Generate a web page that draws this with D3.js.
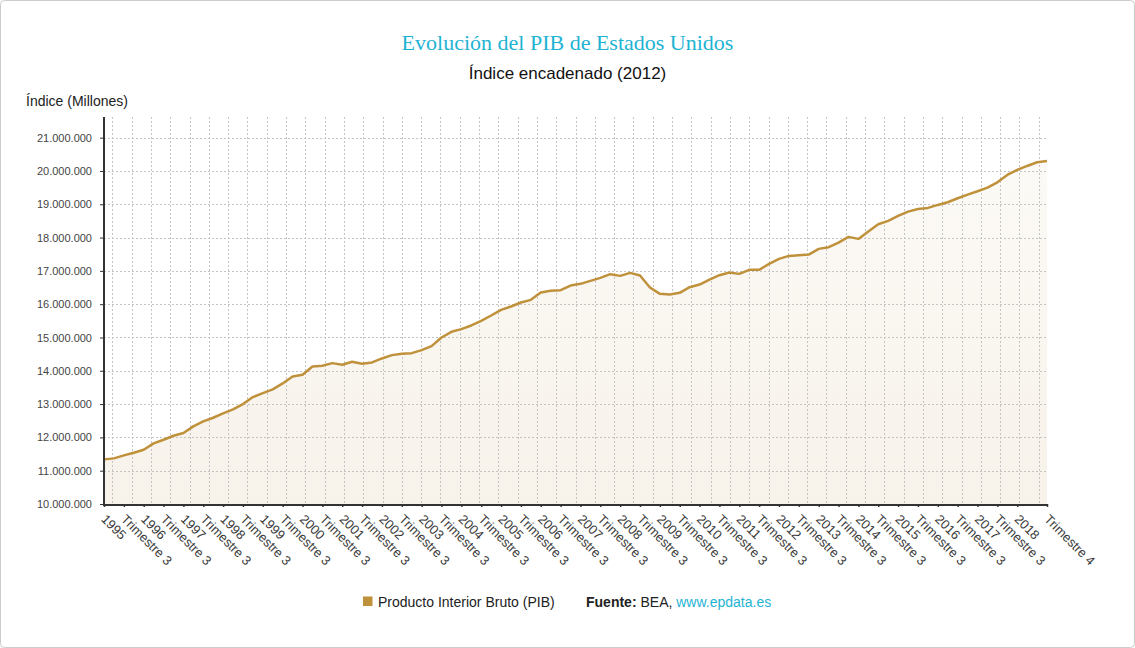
<!DOCTYPE html>
<html>
<head>
<meta charset="utf-8">
<script src="https://cdn.jsdelivr.net/npm/d3@7"></script>
<style>
  html, body { margin: 0; padding: 0; background: #fff; }
  svg { display: block; }
  text { font-family: "Liberation Sans", Arial, sans-serif; }
</style>
</head>
<body>
<svg id="chart" width="1135" height="648"></svg>
<script>
// ---- DATA ----
const years = [1995,1996,1997,1998,1999,2000,2001,2002,2003,2004,2005,2006,
               2007,2008,2009,2010,2011,2012,2013,2014,2015,2016,2017,2018];
const quarters = ["T1","T2","T3","T4"];
// PIB (índice encadenado 2012), millones, trimestral 1995 T1 – 2018 T4
const pibValues = [
  11340000,11370000,11460000,11540000, 11630000,11820000,11930000,12050000,
  12130000,12330000,12480000,12590000, 12720000,12840000,13000000,13210000,
  13330000,13440000,13620000,13830000, 13880000,14130000,14150000,14230000,
  14180000,14270000,14210000,14250000, 14370000,14470000,14510000,14530000,
  14620000,14740000,15000000,15170000, 15250000,15360000,15500000,15660000,
  15830000,15930000,16050000,16130000, 16350000,16400000,16420000,16560000,
  16610000,16700000,16790000,16900000, 16850000,16940000,16860000,16500000,
  16310000,16290000,16340000,16510000, 16590000,16740000,16870000,16950000,
  16910000,17030000,17030000,17210000, 17360000,17450000,17470000,17490000,
  17660000,17710000,17850000,18020000, 17960000,18180000,18400000,18500000,
  18650000,18780000,18860000,18890000, 18980000,19060000,19180000,19290000,
  19390000,19500000,19660000,19880000, 20030000,20150000,20260000,20300000
];
const xTickPeriods = [
  "1995-T1","1995-T3","1996-T1","1996-T3","1997-T1","1997-T3","1998-T1","1998-T3",
  "1999-T1","1999-T3","2000-T1","2000-T3","2001-T1","2001-T3","2002-T1","2002-T3",
  "2003-T1","2003-T3","2004-T1","2004-T3","2005-T1","2005-T3","2006-T1","2006-T3",
  "2007-T1","2007-T3","2008-T1","2008-T3","2009-T1","2009-T3","2010-T1","2010-T3",
  "2011-T1","2011-T3","2012-T1","2012-T3","2013-T1","2013-T3","2014-T1","2014-T3",
  "2015-T1","2015-T3","2016-T1","2016-T3","2017-T1","2017-T3","2018-T1","2018-T4"
];
const xTickLabels = [
  "1995","Trimestre 3","1996","Trimestre 3","1997","Trimestre 3","1998","Trimestre 3",
  "1999","Trimestre 3","2000","Trimestre 3","2001","Trimestre 3","2002","Trimestre 3",
  "2003","Trimestre 3","2004","Trimestre 3","2005","Trimestre 3","2006","Trimestre 3",
  "2007","Trimestre 3","2008","Trimestre 3","2009","Trimestre 3","2010","Trimestre 3",
  "2011","Trimestre 3","2012","Trimestre 3","2013","Trimestre 3","2014","Trimestre 3",
  "2015","Trimestre 3","2016","Trimestre 3","2017","Trimestre 3","2018","Trimestre 4"
];
const yTickValues = [10000000,11000000,12000000,13000000,14000000,15000000,16000000,
                     17000000,18000000,19000000,20000000,21000000];

(function () {
const periods = [];
years.forEach(yr => quarters.forEach(q => periods.push(yr + "-" + q)));
const data = periods.map((p, i) => ({ period: p, value: pibValues[i] }));

// ---- LAYOUT ----
const W = 1135, H = 648;
const pLeft = 104, pRight = 1047, pTop = 117, pBottom = 504;
const lineColor = "#c0913b";
const cyan = "#1fb3d3";

const svg = d3.select("#chart");

svg.append("rect").attr("x", 0.5).attr("y", 0.5).attr("width", W - 1).attr("height", H - 1)
  .attr("rx", 4).attr("fill", "#fff").attr("stroke", "#cccccc");

const x = d3.scalePoint().domain(periods).range([pLeft, pRight]);
const y = d3.scaleLinear().domain([10000000, 21620000]).range([pBottom, pTop]);
const gridX = d3.scaleLinear().domain([0, 48]).range([pLeft + 8.3, pRight - 8.3]);

const fmt = v => d3.format(",")(v).replace(/,/g, ".");

const defs = svg.append("defs");
const grad = defs.append("linearGradient").attr("id", "areaGrad")
  .attr("x1", 0).attr("y1", 0).attr("x2", 0).attr("y2", 1);
grad.append("stop").attr("offset", "0%").attr("stop-color", "#fcfaf6");
grad.append("stop").attr("offset", "100%").attr("stop-color", "#f7f2ea");

const area = d3.area().x(d => x(d.period)).y0(pBottom).y1(d => y(d.value));
svg.append("path").datum(data).attr("d", area).attr("fill", "url(#areaGrad)");

const grid = svg.append("g").attr("stroke", "#c4c4c4").attr("stroke-width", 1)
  .attr("stroke-dasharray", "2,2").attr("fill", "none");
grid.selectAll("line.h").data(yTickValues.slice(1)).join("line").attr("class", "h")
  .attr("x1", pLeft).attr("x2", pRight)
  .attr("y1", d => Math.round(y(d)) + 0.5).attr("y2", d => Math.round(y(d)) + 0.5);
grid.selectAll("line.v").data(d3.range(49)).join("line").attr("class", "v")
  .attr("x1", d => Math.round(gridX(d)) + 0.5).attr("x2", d => Math.round(gridX(d)) + 0.5)
  .attr("y1", pTop).attr("y2", pBottom);

const line = d3.line().x(d => x(d.period)).y(d => y(d.value));
svg.append("path").datum(data).attr("d", line).attr("fill", "none")
  .attr("stroke", lineColor).attr("stroke-width", 2.5).attr("stroke-linejoin", "round");

const yAxis = svg.append("g").attr("transform", `translate(${pLeft},0)`)
  .call(d3.axisLeft(y).tickValues(yTickValues).tickFormat(fmt).tickSize(4).tickPadding(8));
yAxis.select(".domain").remove();
yAxis.selectAll(".tick line").attr("stroke", "#333");
yAxis.selectAll(".tick text").attr("fill", "#444").style("font-size", "11px")
  .style("font-family", "'Liberation Sans', Arial, sans-serif");
svg.append("line").attr("x1", pLeft).attr("x2", pLeft).attr("y1", pTop).attr("y2", pBottom + 1)
  .attr("stroke", "#333").attr("stroke-width", 2);

const xAxis = svg.append("g").attr("transform", `translate(0,${pBottom})`)
  .call(d3.axisBottom(x).tickValues(xTickPeriods)
    .tickFormat(d => xTickLabels[xTickPeriods.indexOf(d)]).tickSize(3).tickPadding(0));
xAxis.select(".domain").remove();
xAxis.selectAll(".tick line").attr("stroke", "#333").attr("stroke-width", 1.5);
xAxis.selectAll(".tick text")
  .attr("fill", "#3a3a3a").style("font-size", "13px")
  .style("font-family", "'Liberation Sans', Arial, sans-serif")
  .attr("text-anchor", "start")
  .attr("dy", 0).attr("y", 0)
  .attr("transform", "translate(-4,16) rotate(45)");
svg.append("line").attr("x1", pLeft - 1).attr("x2", pRight + 1).attr("y1", pBottom + 1).attr("y2", pBottom + 1)
  .attr("stroke", "#333").attr("stroke-width", 2);

svg.append("text").attr("x", W / 2).attr("y", 50).attr("text-anchor", "middle")
  .style("font-family", "'Liberation Serif', 'Times New Roman', serif")
  .style("font-size", "22px").attr("fill", cyan)
  .text("Evolución del PIB de Estados Unidos");
svg.append("text").attr("x", W / 2).attr("y", 79).attr("text-anchor", "middle")
  .style("font-size", "17px").attr("fill", "#111")
  .text("Índice encadenado (2012)");
svg.append("text").attr("x", 26).attr("y", 106)
  .style("font-size", "14px").attr("fill", "#222")
  .text("Índice (Millones)");

svg.append("rect").attr("x", 363).attr("y", 596.5).attr("width", 9.5).attr("height", 9.5)
  .attr("fill", lineColor);
svg.append("text").attr("x", 378).attr("y", 606.5).style("font-size", "14px").attr("fill", "#222")
  .text("Producto Interior Bruto (PIB)");
const src = svg.append("text").attr("x", 586).attr("y", 606.5).style("font-size", "14px").attr("fill", "#222");
src.append("tspan").style("font-weight", "bold").text("Fuente:");
src.append("tspan").text(" BEA, ");
src.append("tspan").attr("fill", cyan).text("www.epdata.es");
})();
</script>
</body>
</html>
